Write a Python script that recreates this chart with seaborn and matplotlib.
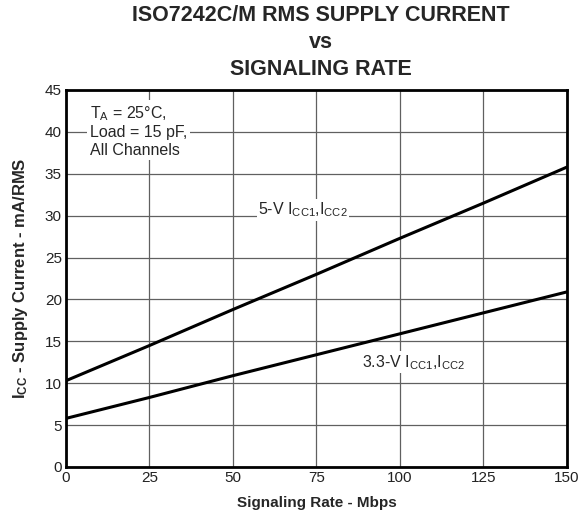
import numpy as np
import pandas as pd
import matplotlib
matplotlib.use("Agg")
import matplotlib.pyplot as plt
import seaborn as sns

# values
rate_mbps = [0, 25, 50, 75, 100, 125, 150]
icc_5v = [10.3, 14.5, 18.8, 23.0, 27.3, 31.5, 35.8]
icc_33v = [5.8, 8.3, 10.9, 13.4, 15.9, 18.4, 20.9]
x_ticks = [0, 25, 50, 75, 100, 125, 150]
y_ticks = [0, 5, 10, 15, 20, 25, 30, 35, 40, 45]

df = pd.DataFrame({
    "rate": rate_mbps * 2,
    "icc": icc_5v + icc_33v,
    "supply": ["5V"] * len(rate_mbps) + ["3.3V"] * len(rate_mbps),
})

sns.set_theme(style="white")
plt.rcParams["font.family"] = ["Liberation Sans", "DejaVu Sans"]
plt.rcParams["mathtext.default"] = "regular"

fig = plt.figure(figsize=(5.82, 5.16), dpi=100)
ax = fig.add_axes([0.1134, 0.095, 0.8608, 0.7306])

sns.lineplot(data=df, x="rate", y="icc", units="supply", estimator=None,
             color="black", linewidth=2.2, ax=ax, legend=False)

ax.set_xlim(0, 150)
ax.set_ylim(0, 45)
ax.set_xticks(x_ticks)
ax.set_yticks(y_ticks)
ax.tick_params(axis="both", length=0, labelsize=11, colors="#222222", pad=3)
ax.grid(True, color="#606060", linewidth=0.9)
ax.set_axisbelow(True)
for s in ax.spines.values():
    s.set_color("black")
    s.set_linewidth(2.0)

ax.set_xlabel("Signaling Rate - Mbps", fontsize=11, fontweight="bold", labelpad=8)
ax.set_ylabel("I$_{CC}$ - Supply Current - mA/RMS", fontsize=12, fontweight="bold", labelpad=11)

fig.suptitle("ISO7242C/M RMS SUPPLY CURRENT\nvs\nSIGNALING RATE",
             x=0.552, y=0.99, fontsize=15.5, fontweight="bold", linespacing=1.38)

ax.text(7.2, 43.3, "T$_A$ = 25°C,\nLoad = 15 pF,\nAll Channels", fontsize=11.5,
        va="top", ha="left", linespacing=1.2,
        bbox=dict(facecolor="white", edgecolor="none", pad=2))
ax.text(57.5, 30.7, "5-V I$_{CC1}$,I$_{CC2}$", fontsize=11.5, va="center", ha="left",
        bbox=dict(facecolor="white", edgecolor="none", pad=1))
ax.text(88.5, 12.5, "3.3-V I$_{CC1}$,I$_{CC2}$", fontsize=11.5, va="center", ha="left",
        bbox=dict(facecolor="white", edgecolor="none", pad=1))

fig.savefig("out.png", dpi=100)
